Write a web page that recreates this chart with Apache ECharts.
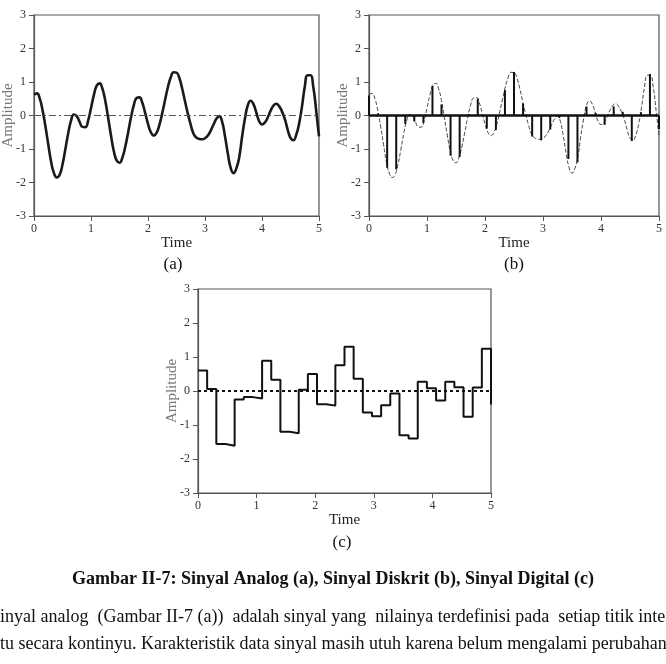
<!DOCTYPE html>
<html>
<head>
<meta charset="utf-8">
<script src="https://cdn.jsdelivr.net/npm/echarts@6/dist/echarts.min.js"></script>
<style>
  html, body { margin: 0; padding: 0; background: #fff; }
  #main { width: 666px; height: 664px; }
</style>
</head>
<body>
<div id="main"></div>
<script>
// analog signal, every 0.05 s
const analogTimes = [
  0.00, 0.05, 0.10, 0.15, 0.20, 0.25, 0.30, 0.35, 0.40, 0.45,
  0.50, 0.55, 0.60, 0.65, 0.70, 0.75, 0.80, 0.85, 0.90, 0.95,
  1.00, 1.05, 1.10, 1.15, 1.20, 1.25, 1.30, 1.35, 1.40, 1.45,
  1.50, 1.55, 1.60, 1.65, 1.70, 1.75, 1.80, 1.85, 1.90, 1.95,
  2.00, 2.05, 2.10, 2.15, 2.20, 2.25, 2.30, 2.35, 2.40, 2.45,
  2.50, 2.55, 2.60, 2.65, 2.70, 2.75, 2.80, 2.85, 2.90, 2.95,
  3.00, 3.05, 3.10, 3.15, 3.20, 3.25, 3.30, 3.35, 3.40, 3.45,
  3.50, 3.55, 3.60, 3.65, 3.70, 3.75, 3.80, 3.85, 3.90, 3.95,
  4.00, 4.05, 4.10, 4.15, 4.20, 4.25, 4.30, 4.35, 4.40, 4.45,
  4.50, 4.55, 4.60, 4.65, 4.70, 4.75, 4.80, 4.85, 4.90, 4.95,
  5.00
];
const analogValues = [
  0.62, 0.66, 0.51, 0.16, -0.32, -0.86, -1.38, -1.72, -1.85, -1.77,
  -1.46, -1.01, -0.53, -0.15, 0.03, -0.02, -0.19, -0.34, -0.35, -0.15,
  0.22, 0.61, 0.89, 0.96, 0.80, 0.44, -0.06, -0.59, -1.06, -1.34,
  -1.41, -1.26, -0.94, -0.52, -0.07, 0.30, 0.52, 0.54, 0.38, 0.08,
  -0.25, -0.50, -0.60, -0.52, -0.28, 0.07, 0.47, 0.85, 1.14, 1.29,
  1.28, 1.12, 0.80, 0.42, 0.05, -0.28, -0.55, -0.66, -0.70, -0.71,
  -0.68, -0.60, -0.45, -0.27, -0.10, -0.02, -0.18, -0.61, -1.13, -1.56,
  -1.72, -1.58, -1.25, -0.64, -0.10, 0.30, 0.44, 0.34, 0.09, -0.17,
  -0.27, -0.21, -0.06, 0.14, 0.29, 0.35, 0.28, 0.12, -0.10, -0.42,
  -0.67, -0.74, -0.58, -0.25, 0.25, 0.85, 1.20, 1.20, 0.85, 0.15,
  -0.62
];

const sampleTimes = [
  0, 0.156, 0.313, 0.469, 0.625, 0.781, 0.938, 1.094, 1.25, 1.406, 1.563,
  1.719, 1.875, 2.031, 2.188, 2.344, 2.5, 2.656, 2.813, 2.969, 3.125, 3.281,
  3.438, 3.594, 3.75, 3.906, 4.063, 4.219, 4.375, 4.531, 4.688, 4.844, 5
];
const sampleValues = [
  0.60, 0.06, -1.56, -1.61, -0.25, -0.18, -0.22, 0.89, 0.33, -1.20, -1.24,
  0.04, 0.50, -0.39, -0.43, 0.76, 1.30, 0.36, -0.63, -0.74, -0.42, -0.07,
  -1.30, -1.40, 0.27, 0.08, -0.28, 0.27, 0.11, -0.76, 0.10, 1.24, -0.40
];

const timeTicks = [0, 1, 2, 3, 4, 5];
const ampTicks = [-3, -2, -1, 0, 1, 2, 3];

const caption = "Gambar II-7: Sinyal Analog (a), Sinyal Diskrit (b), Sinyal Digital (c)";
const paragraph = [
  "inyal analog  (Gambar II-7 (a))  adalah sinyal yang  nilainya terdefinisi pada  setiap titik inte",
  "tu secara kontinyu. Karakteristik data sinyal masih utuh karena belum mengalami perubahan"
];

const serif = "'Liberation Serif', 'DejaVu Serif', serif";
const analogData = analogTimes.map((t, i) => [t, analogValues[i]]);
const sampleData = sampleTimes.map((t, i) => [t, sampleValues[i]]);

const grids = [
  { left: 29, top: 15, width: 290, height: 201 },
  { left: 369, top: 15, width: 290, height: 201 },
  { left: 198, top: 289, width: 293, height: 204 }
];

function xAxisFor(i) {
  return {
    type: "value", gridIndex: i,
    min: timeTicks[0], max: timeTicks[timeTicks.length - 1], interval: 1,
    name: "Time", nameLocation: "middle", nameGap: 20, nameMoveOverlap: false,
    nameTextStyle: { fontFamily: serif, fontSize: 15, color: "#222" },
    axisLine: { onZero: false, lineStyle: { color: "#555", width: 1.2 } },
    axisTick: { length: 5, lineStyle: { color: "#555" } },
    axisLabel: { fontFamily: serif, fontSize: 12, color: "#333", margin: 7 },
    splitLine: { show: false }
  };
}
function yAxisFor(i) {
  return {
    type: "value", gridIndex: i,
    min: ampTicks[0], max: ampTicks[ampTicks.length - 1], interval: 1,
    name: "Amplitude", nameLocation: "middle", nameGap: 18, nameMoveOverlap: false,
    nameTextStyle: { fontFamily: serif, fontSize: 15, color: "#777" },
    axisLine: { onZero: false, lineStyle: { color: "#555", width: 1.2 } },
    axisTick: { length: 5, lineStyle: { color: "#555" } },
    axisLabel: { fontFamily: serif, fontSize: 12, color: "#333", margin: 8 },
    splitLine: { show: false }
  };
}

const chart = echarts.init(document.getElementById("main"), null, { renderer: "canvas" });
chart.setOption({
  backgroundColor: "#fff",
  animation: false,
  grid: grids.map(g => Object.assign({ show: true, borderColor: "#555", borderWidth: 1.2, backgroundColor: "transparent" }, g)),
  xAxis: [0, 1, 2].map(xAxisFor),
  yAxis: [0, 1, 2].map(yAxisFor),
  series: [
    // (a) analog
    {
      type: "line", xAxisIndex: 0, yAxisIndex: 0, data: analogData,
      smooth: 0.5, symbol: "none",
      lineStyle: { color: "#1a1a1a", width: 2.6 },
      markLine: {
        silent: true, symbol: "none", label: { show: false },
        lineStyle: { color: "#555", width: 1, type: [7, 3, 2, 3] },
        data: [{ yAxis: 0 }]
      },
      z: 3
    },
    // (b) analog dashed
    {
      type: "line", xAxisIndex: 1, yAxisIndex: 1, data: analogData,
      smooth: 0.5, symbol: "none",
      lineStyle: { color: "#444", width: 1, type: [4, 2] },
      markLine: {
        silent: true, symbol: "none", label: { show: false },
        lineStyle: { color: "#111", width: 2.5, type: "solid" },
        data: [{ yAxis: 0 }]
      },
      z: 2
    },
    // (b) sample stems
    {
      type: "bar", xAxisIndex: 1, yAxisIndex: 1, data: sampleData,
      barWidth: 2, itemStyle: { color: "#111" }, z: 3
    },
    // (c) digital step
    {
      type: "line", xAxisIndex: 2, yAxisIndex: 2, data: sampleData,
      step: "end", symbol: "none",
      lineStyle: { color: "#111", width: 2 },
      markLine: {
        silent: true, symbol: "none", label: { show: false },
        lineStyle: { color: "#111", width: 2, type: [3, 3] },
        data: [{ yAxis: 0 }]
      },
      z: 3
    }
  ],
  graphic: [
    { type: "text", x: 173, y: 265, style: { text: "(a)", font: "17px " + serif, fill: "#111", align: "center", verticalAlign: "middle" } },
    { type: "text", x: 514, y: 265, style: { text: "(b)", font: "17px " + serif, fill: "#111", align: "center", verticalAlign: "middle" } },
    { type: "text", x: 342, y: 543, style: { text: "(c)", font: "17px " + serif, fill: "#111", align: "center", verticalAlign: "middle" } },
    { type: "text", x: 333, y: 579, style: { text: caption, font: "bold 18px " + serif, fill: "#111", align: "center", verticalAlign: "middle" } },
    { type: "text", x: 0, y: 617, style: { text: paragraph[0], font: "18px " + serif, fill: "#111", align: "left", verticalAlign: "middle" } },
    { type: "text", x: 0, y: 644, style: { text: paragraph[1], font: "18px " + serif, fill: "#111", align: "left", verticalAlign: "middle" } }
  ]
});
</script>
</body>
</html>
